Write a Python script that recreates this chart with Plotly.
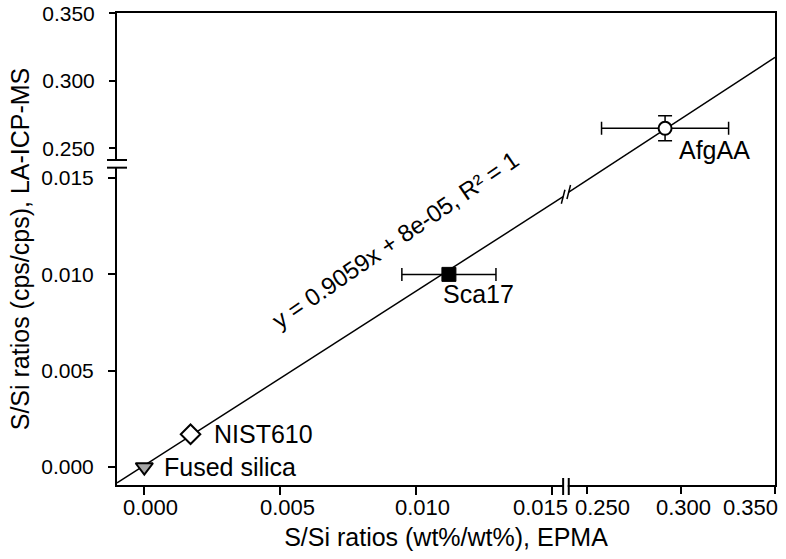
import plotly.graph_objects as go

# ---------------- data ----------------
samples = ["Fused silica", "NIST610", "Sca17", "AfgAA"]
epma = [0.0, 0.0017, 0.0112, 0.2915]          # S/Si wt%/wt%
epma_err = [0.0, 0.0, 0.00173, 0.0339]
lams = [0.0, 0.0017, 0.0100, 0.2648]          # S/Si cps/cps
lams_err = [0.0, 0.0, 0.0, 0.0093]

fit_slope = 0.9059
fit_intercept = 8e-05
fit_text = "y = 0.9059x + 8e-05, R² = 1"

x_ticks_lo = [0.000, 0.005, 0.010, 0.015]
x_ticks_hi = [0.250, 0.300, 0.350]
y_ticks_lo = [0.000, 0.005, 0.010, 0.015]
y_ticks_hi = [0.250, 0.300, 0.350]

# axis segments (broken axes)
X_LO_RANGE = [-0.001004, 0.02319]
X_HI_RANGE = [-0.00096, 0.35016]
Y_LO_RANGE = [-0.000935, 0.02357]
Y_HI_RANGE = [0.00057, 0.3502]
X_LO_MAX, X_HI_MIN = 0.0154, 0.2401
Y_LO_MAX, Y_HI_MIN = 0.01554, 0.2413

FONT = "Arial, Liberation Sans, sans-serif"
BLACK = "#000000"

fig = go.Figure()

def fit(x):
    return fit_slope * x + fit_intercept

# regression line, lower and upper segments
xl = [X_LO_RANGE[0], X_LO_MAX]
fig.add_trace(go.Scatter(x=xl, y=[fit(v) for v in xl], mode="lines",
                         line=dict(color=BLACK, width=1.5), xaxis="x", yaxis="y",
                         showlegend=False, hoverinfo="skip"))
xh = [X_HI_MIN, X_HI_RANGE[1]]
fig.add_trace(go.Scatter(x=xh, y=[fit(v) for v in xh], mode="lines",
                         line=dict(color=BLACK, width=1.5), xaxis="x2", yaxis="y2",
                         showlegend=False, hoverinfo="skip"))

# points
styles = [
    dict(symbol="triangle-down", size=15, color="#a6a6a6", line=dict(color=BLACK, width=2)),
    dict(symbol="diamond", size=15, color="white", line=dict(color=BLACK, width=2)),
    dict(symbol="square", size=14, color=BLACK, line=dict(color=BLACK, width=1)),
    dict(symbol="circle", size=13, color="white", line=dict(color=BLACK, width=2)),
]
for i, name in enumerate(samples):
    upper = i == 3
    fig.add_trace(go.Scatter(
        x=[epma[i]], y=[lams[i]], mode="markers", name=name,
        marker=styles[i],
        error_x=dict(type="data", array=[epma_err[i]], visible=epma_err[i] > 0,
                     color=BLACK, thickness=1.5, width=6.5),
        error_y=dict(type="data", array=[lams_err[i]], visible=lams_err[i] > 0,
                     color=BLACK, thickness=1.5, width=7),
        xaxis="x2" if upper else "x", yaxis="y2" if upper else "y",
        showlegend=False))

annotations = []
LAB_SIZE = 25
lab_pos = [
    dict(xanchor="left", xshift=18, yshift=0),
    dict(xanchor="left", xshift=21, yshift=0),
    dict(xanchor="center", xshift=30, yshift=-20),
    dict(xanchor="center", xshift=49, yshift=-22),
]
for i, name in enumerate(samples):
    upper = i == 3
    annotations.append(dict(
        x=epma[i], y=lams[i], xref="x2" if upper else "x", yref="y2" if upper else "y",
        text=name, showarrow=False, yanchor="middle",
        font=dict(family=FONT, size=LAB_SIZE, color=BLACK), **lab_pos[i]))

# regression equation
annotations.append(dict(x=0.00925, y=0.01179, xref="x", yref="y", text=fit_text,
                        showarrow=False, textangle=-34.5, xanchor="center", yanchor="middle",
                        font=dict(family=FONT, size=24, color=BLACK)))

# x tick labels (nudged as in the original)
TICK_SIZE = 22
lo_shift = [6, 7, 6, -12]
for v, s in zip(x_ticks_lo, lo_shift):
    annotations.append(dict(x=v, y=0, xref="x", yref="paper", text=f"{v:.3f}",
                            showarrow=False, xanchor="center", yanchor="middle",
                            xshift=s, yshift=-22, font=dict(family=FONT, size=TICK_SIZE, color=BLACK)))
hi_shift = [15, 2, -24]
for v, s in zip(x_ticks_hi, hi_shift):
    annotations.append(dict(x=v, y=0, xref="x2", yref="paper", text=f"{v:.3f}",
                            showarrow=False, xanchor="center", yanchor="middle",
                            xshift=s, yshift=-22, font=dict(family=FONT, size=TICK_SIZE, color=BLACK)))

# break marks
shapes = []
W = "white"
# y-axis break
shapes.append(dict(type="line", xref="paper", x0=0, x1=0, yref="y", ysizemode="pixel",
                   yanchor=Y_LO_MAX, y0=0.5, y1=7.2, line=dict(color=W, width=5), layer="above"))
for ref, val in (("y", Y_LO_MAX), ("y2", Y_HI_MIN)):
    shapes.append(dict(type="line", xref="paper", xsizemode="pixel", xanchor=0, x0=-10, x1=10,
                       yref=ref, ysizemode="pixel", yanchor=val, y0=0, y1=0,
                       line=dict(color=BLACK, width=2), layer="above"))
# x-axis break
shapes.append(dict(type="line", xref="x", xsizemode="pixel", xanchor=X_LO_MAX, x0=0.8, x1=4.6,
                   yref="paper", y0=0, y1=0, line=dict(color=W, width=5), layer="above"))
for ref, val in (("x", X_LO_MAX), ("x2", X_HI_MIN)):
    shapes.append(dict(type="line", xref=ref, xsizemode="pixel", xanchor=val, x0=0, x1=0,
                       yref="paper", ysizemode="pixel", yanchor=0, y0=-10, y1=7,
                       line=dict(color=BLACK, width=2), layer="above"))
# break on regression line
for xr, yr, val in (("x", "y", X_LO_MAX), ("x2", "y2", X_HI_MIN)):
    shapes.append(dict(type="line", xref=xr, xsizemode="pixel", xanchor=val, x0=-1.8, x1=1.8,
                       yref=yr, ysizemode="pixel", yanchor=fit(val), y0=-7, y1=7,
                       line=dict(color=BLACK, width=1.5), layer="above"))

axis_common = dict(showgrid=False, zeroline=False, ticks="outside", tickwidth=2,
                   tickcolor=BLACK, linecolor=BLACK, linewidth=2, automargin=False)
YTICK_FONT = dict(family=FONT, size=21, color=BLACK)

fig.update_layout(
    width=786, height=559, autosize=False,
    margin=dict(l=117, r=11, t=13, b=74),
    paper_bgcolor="white", plot_bgcolor="white",
    font=dict(family=FONT, color=BLACK),
    showlegend=False,
    xaxis=dict(**axis_common, domain=[0, 1], range=X_LO_RANGE, tickvals=x_ticks_lo,
               showticklabels=False, ticklen=8, showline=True, mirror=True, anchor="y",
               title=dict(text="S/Si ratios (wt%/wt%), EPMA", standoff=34,
                          font=dict(family=FONT, size=25, color=BLACK))),
    xaxis2=dict(**axis_common, range=X_HI_RANGE, tickvals=x_ticks_hi, overlaying="x",
                side="bottom", anchor="y", showticklabels=False, ticklen=8, showline=False),
    yaxis=dict(**axis_common, domain=[0, 1], range=Y_LO_RANGE, tickvals=y_ticks_lo,
               ticktext=[f"{v:.3f}" for v in y_ticks_lo], ticklen=7, ticklabelstandoff=10,
               tickfont=YTICK_FONT, showline=True, mirror=True, anchor="x",
               title=dict(text="S/Si ratios (cps/cps), LA-ICP-MS", standoff=4,
                          font=dict(family=FONT, size=25, color=BLACK))),
    yaxis2=dict(**axis_common, range=Y_HI_RANGE, tickvals=y_ticks_hi,
                ticktext=[f"{v:.3f}" for v in y_ticks_hi], ticklen=7, ticklabelstandoff=10,
                tickfont=YTICK_FONT, overlaying="y", side="left", anchor="x", showline=False),
    annotations=annotations,
    shapes=shapes,
)

fig.write_html("out.html")
